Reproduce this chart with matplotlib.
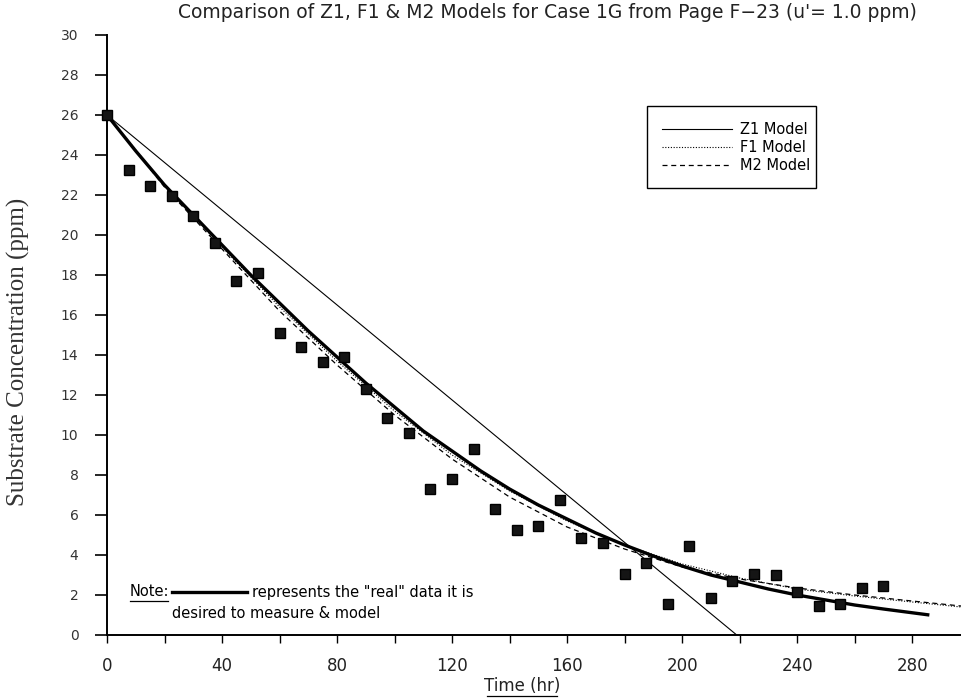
import matplotlib
matplotlib.use("Agg")
import matplotlib.pyplot as plt
from matplotlib.lines import Line2D

# ---- data ----
obs_t = [0, 7.5, 15, 22.5, 30, 37.5, 45, 52.5, 60, 67.5, 75, 82.5, 90, 97.5,
         105, 112.5, 120, 127.5, 135, 142.5, 150, 157.5, 165, 172.5, 180,
         187.5, 195, 202.5, 210, 217.5, 225, 232.5, 240, 247.5, 255, 262.5, 270]
obs_y = [26.0, 23.25, 22.45, 21.95, 20.95, 19.6, 17.7, 18.1, 15.1, 14.4, 13.65,
         13.9, 12.3, 10.85, 10.1, 7.3, 7.8, 9.3, 6.3, 5.25, 5.45, 6.75, 4.85,
         4.6, 3.05, 3.6, 1.55, 4.45, 1.85, 2.7, 3.05, 3.0, 2.15, 1.45, 1.55,
         2.35, 2.45]

real_t = [0, 10, 20, 30, 40, 50, 60, 70, 80, 90, 100, 110, 120, 130, 140,
          150, 160, 170, 180, 190, 200, 210, 220, 230, 240, 250, 260, 270, 286]
real_y = [26.0, 24.2, 22.5, 21.0, 19.5, 18.0, 16.6, 15.2, 13.9, 12.6, 11.4,
          10.2, 9.2, 8.2, 7.3, 6.5, 5.8, 5.1, 4.5, 3.95, 3.45, 3.0, 2.65,
          2.3, 2.0, 1.75, 1.5, 1.3, 1.0]

z1_t = [0, 219]
z1_y = [26.0, 0.0]

f1_t = [0, 20, 40, 60, 80, 100, 120, 140, 160, 180, 200, 220, 240, 260, 280, 297]
f1_y = [26.0, 22.5, 19.4, 16.4, 13.7, 11.2, 9.0, 7.2, 5.7, 4.5, 3.55, 2.85, 2.3, 1.95, 1.65, 1.4]

m2_t = [0, 20, 40, 60, 80, 100, 120, 140, 160, 180, 200, 220, 240, 260, 280, 297]
m2_y = [26.0, 22.4, 19.3, 16.2, 13.5, 11.0, 8.8, 6.9, 5.4, 4.3, 3.4, 2.8, 2.35, 2.0, 1.7, 1.45]

x_ticks = [0, 40, 80, 120, 160, 200, 240, 280]
x_minor = [20, 60, 100, 140, 180, 220, 260]
y_ticks = list(range(0, 31, 2))

legend_labels = ["Z1 Model", "F1 Model", "M2 Model"]
title = "Comparison of Z1, F1 & M2 Models for Case 1G from Page F\u221223 (u'= 1.0 ppm)"

# ---- figure ----
W, H = 961, 700
def fx(px):
    return px / W
def fy(py):
    return 1 - py / H

fig = plt.figure(figsize=(W / 100, H / 100), dpi=100)
ax = fig.add_axes([fx(107), fy(635), (961 - 107) / W, 600 / H])
ax.set_xlim(0, 297)
ax.set_ylim(0, 30)

Z1_STYLE = dict(color="black", lw=0.8, ls="-")
F1_STYLE = dict(color="black", lw=0.8, ls=(0, (1, 1.5)))
M2_STYLE = dict(color="black", lw=0.9, ls=(0, (4, 3)))

ax.plot(z1_t, z1_y, **Z1_STYLE)
ax.plot(f1_t, f1_y, **F1_STYLE)
ax.plot(m2_t, m2_y, **M2_STYLE)
ax.plot(real_t, real_y, color="black", lw=2.4, solid_capstyle="butt")
ax.plot(obs_t, obs_y, ls="none", marker="s", ms=7.5, color="#151515",
        markeredgecolor="black", clip_on=False, zorder=5)

for s in ["top", "right"]:
    ax.spines[s].set_visible(False)
for s in ["left", "bottom"]:
    ax.spines[s].set_linewidth(1.4)

ax.set_xticks(x_ticks)
ax.set_xticks(x_minor, minor=True)
ax.set_yticks(y_ticks)
ax.tick_params(axis="y", direction="out", length=8.5, width=1.2, pad=12)
ax.tick_params(axis="x", which="both", direction="out", length=6, width=1.0,
               pad=10)
ax.set_yticklabels([str(v) for v in y_ticks], family="DejaVu Sans",
                   color="#333333", fontsize=10)
ax.set_xticklabels([str(v) for v in x_ticks], family="DejaVu Sans",
                   color="#222222", fontsize=12)

fig.text(fx(547), fy(12), title, ha="center", va="center", fontsize=13.5,
         family="DejaVu Sans", color="#222222")
fig.text(fx(18), fy(352), "Substrate Concentration (ppm)", rotation=90,
         ha="center", va="center", fontsize=18, family="Liberation Serif",
         color="#333333")
fig.text(fx(522), fy(686), "Time (hr)", ha="center", va="center",
         fontsize=12, family="DejaVu Sans", color="#222222")
fig.add_artist(Line2D([fx(487), fx(557)], [fy(696), fy(696)],
                      color="black", lw=0.9))

# legend, drawn by hand
box = plt.Rectangle((fx(647), fy(188)), fx(816) - fx(647), fy(106) - fy(188),
                    transform=fig.transFigure, fill=False, edgecolor="black",
                    lw=1.0)
fig.add_artist(box)
for i, (lab, st) in enumerate(zip(legend_labels, [Z1_STYLE, F1_STYLE, M2_STYLE])):
    yy = 129 + 18 * i
    fig.add_artist(Line2D([fx(662), fx(732)], [fy(yy), fy(yy)], **st))
    fig.text(fx(740), fy(yy), lab, ha="left", va="center", fontsize=10.5,
             family="DejaVu Sans")

# note
fig.text(fx(130), fy(592), "Note:", ha="left", va="center", fontsize=10.5,
         family="DejaVu Sans")
fig.add_artist(Line2D([fx(130), fx(168)], [fy(601), fy(601)],
                      color="black", lw=0.9))
fig.add_artist(Line2D([fx(172), fx(247)], [fy(592), fy(592)],
                      color="black", lw=2.4))
fig.text(fx(252), fy(592), 'represents the "real" data it is',
         ha="left", va="center", fontsize=10.5, family="DejaVu Sans")
fig.text(fx(172), fy(613), "desired to measure & model", ha="left",
         va="center", fontsize=10.5, family="DejaVu Sans")

fig.savefig("out.png", dpi=100)
